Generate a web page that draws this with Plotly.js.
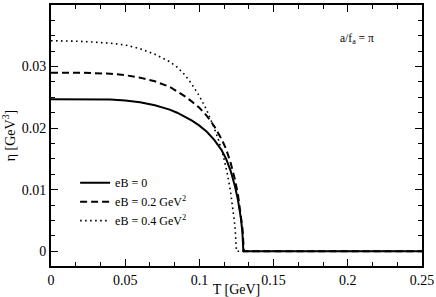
<!DOCTYPE html>
<html>
<head>
<meta charset="utf-8">
<script src="https://cdn.plot.ly/plotly-3.0.1.min.js"></script>
<style>html,body{margin:0;padding:0;background:#fff;}#chart{width:436px;height:297px;}</style>
</head>
<body>
<div id="chart"></div>
<script>
// Temperature T [GeV] and viscosity eta [GeV^3]
const T_eB0   = [0, 0.02, 0.04, 0.05, 0.06, 0.07, 0.08, 0.085, 0.09, 0.095, 0.1, 0.105, 0.11, 0.115, 0.118, 0.121, 0.124, 0.126, 0.128, 0.129, 0.1296, 0.25];
const eta_eB0 = [0.0247, 0.0247, 0.02465, 0.0245, 0.0242, 0.0237, 0.0230, 0.0225, 0.0219, 0.0212, 0.0204, 0.0194, 0.0181, 0.0164, 0.0150, 0.0131, 0.0105, 0.0083, 0.0053, 0.0030, 0, 0];

const T_eB02   = [0, 0.02, 0.04, 0.05, 0.06, 0.07, 0.08, 0.085, 0.09, 0.095, 0.1, 0.105, 0.11, 0.115, 0.118, 0.121, 0.124, 0.126, 0.128, 0.129, 0.1300, 0.25];
const eta_eB02 = [0.0290, 0.0290, 0.02885, 0.0286, 0.0282, 0.0276, 0.0267, 0.0260, 0.0252, 0.0243, 0.0233, 0.0220, 0.0203, 0.0182, 0.0166, 0.0144, 0.0116, 0.0092, 0.0060, 0.0037, 0, 0];

const T_eB04   = [0, 0.02, 0.04, 0.05, 0.06, 0.07, 0.08, 0.085, 0.09, 0.095, 0.1, 0.105, 0.11, 0.113, 0.116, 0.119, 0.121, 0.123, 0.124, 0.125, 0.25];
const eta_eB04 = [0.0342, 0.0341, 0.0338, 0.0335, 0.0329, 0.0320, 0.0308, 0.0299, 0.0287, 0.0271, 0.0252, 0.0229, 0.0200, 0.0180, 0.0156, 0.0124, 0.0097, 0.0062, 0.0040, 0, 0];

const seriesNames = ['eB = 0', 'eB = 0.2 GeV<sup>2</sup>', 'eB = 0.4 GeV<sup>2</sup>'];
const xTicks = [0, 0.05, 0.1, 0.15, 0.2, 0.25];
const yTicks = [0, 0.01, 0.02, 0.03, 0.04];

const fam = '"Liberation Serif", "Times New Roman", serif';
const font = {family: fam, size: 14, color: '#000'};
const legFont = {family: fam, size: 12, color: '#000'};
const annFont = {family: fam, size: 11.5, color: '#000'};

const traces = [
  {x: T_eB0, y: eta_eB0, name: seriesNames[0], mode: 'lines', line: {color: '#000', width: 2, dash: 'solid'}},
  {x: T_eB02, y: eta_eB02, name: seriesNames[1], mode: 'lines', line: {color: '#000', width: 2, dash: '7px,4px'}},
  {x: T_eB04, y: eta_eB04, name: seriesNames[2], mode: 'lines', line: {color: '#000', width: 1.6, dash: '1.6px,3.4px'}}
];

const axisCommon = {
  showline: true, linecolor: '#000', linewidth: 2, mirror: 'allticks',
  ticks: 'inside', ticklen: 7, tickwidth: 1, tickcolor: '#000',
  showgrid: false, zeroline: false, tickfont: font
};

const layout = {
  width: 436, height: 297,
  margin: {l: 51, r: 14, t: 5, b: 31},
  paper_bgcolor: '#fff', plot_bgcolor: '#fff',
  font: font,
  showlegend: true,
  legend: {x: 0.065, y: 0.375, xanchor: 'left', yanchor: 'top', bgcolor: 'rgba(0,0,0,0)', borderwidth: 0, font: legFont, itemwidth: 30, tracegroupgap: 0},
  xaxis: Object.assign({}, axisCommon, {
    range: [0, 0.25], tickvals: xTicks,
    minor: {dtick: 0.05/3, ticks: 'inside', ticklen: 4, tickwidth: 1, tickcolor: '#000'},
    title: {text: 'T [GeV]', font: font, standoff: 1}
  }),
  yaxis: Object.assign({}, axisCommon, {
    range: [-0.0024, 0.04], tickvals: yTicks,
    minor: {dtick: 0.0025, ticks: 'inside', ticklen: 4, tickwidth: 1, tickcolor: '#000'},
    title: {text: 'η [GeV<sup>3</sup>]', font: font, standoff: 5}
  }),
  annotations: [
    {x: 0.1935, y: 0.0345, xref: 'x', yref: 'y', xanchor: 'left', yanchor: 'middle', showarrow: false, text: 'a/f<sub>a</sub> = π', font: annFont}
  ]
};

Plotly.newPlot('chart', traces, layout, {displayModeBar: false, staticPlot: true});
</script>
</body>
</html>
